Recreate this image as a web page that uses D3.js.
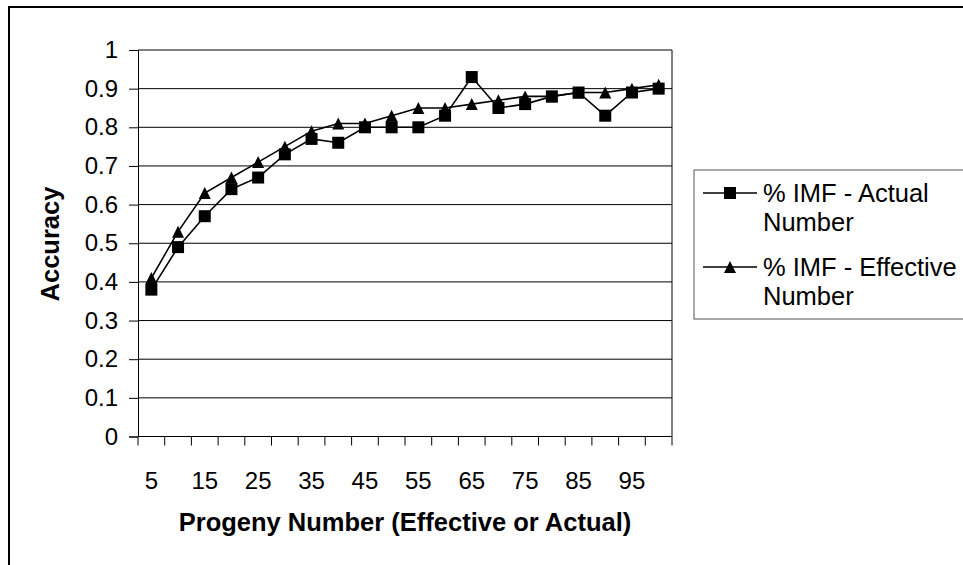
<!DOCTYPE html>
<html>
<head>
<meta charset="utf-8">
<script src="https://cdn.jsdelivr.net/npm/d3@7"></script>
<style>
  html, body { margin: 0; padding: 0; background: #fff; }
  svg { display: block; font-family: "Liberation Sans", Arial, sans-serif; }
</style>
</head>
<body>
<svg id="chart" width="963" height="565"></svg>
<script>
const categories = [5,10,15,20,25,30,35,40,45,50,55,60,65,70,75,80,85,90,95,100];
const tickLabels = [5,15,25,35,45,55,65,75,85,95];
const yTicks = [0,0.1,0.2,0.3,0.4,0.5,0.6,0.7,0.8,0.9,1];
const actualValues = [0.38,0.49,0.57,0.64,0.67,0.73,0.77,0.76,0.80,0.80,0.80,0.83,0.93,0.85,0.86,0.88,0.89,0.83,0.89,0.90];
const effectiveValues = [0.41,0.53,0.63,0.67,0.71,0.75,0.79,0.81,0.81,0.83,0.85,0.85,0.86,0.87,0.88,0.88,0.89,0.89,0.90,0.91];
const seriesNames = ["% IMF - Actual Number", "% IMF - Effective Number"];

(function () {
const svg = d3.select("#chart");
const pL = 138, pR = 672, pT = 50, pB = 436.5;
const FONT = "Liberation Sans, Arial, sans-serif";

// outer chart border
svg.append("rect").attr("x", 9).attr("y", 7).attr("width", 1000).attr("height", 600)
  .attr("fill", "none").attr("stroke", "#000").attr("stroke-width", 2);

const x = d3.scaleBand().domain(categories).range([pL, pR]).padding(0);
const y = d3.scaleLinear().domain([0, 1]).range([pB, pT]);

// gridlines
svg.append("g").selectAll("line").data(yTicks.filter(d => d > 0)).join("line")
  .attr("x1", pL).attr("x2", pR)
  .attr("y1", d => y(d)).attr("y2", d => y(d))
  .attr("stroke", "#000").attr("stroke-width", 1);

// right plot border
svg.append("line").attr("x1", pR).attr("x2", pR).attr("y1", pT).attr("y2", pB)
  .attr("stroke", "#000").attr("stroke-width", 1);

// y axis
const yAxis = d3.axisLeft(y).tickValues(yTicks).tickSize(9).tickPadding(11)
  .tickFormat(d => d === 0 ? "0" : d === 1 ? "1" : d3.format(".1f")(d));
const gy = svg.append("g").attr("transform", `translate(${pL},0)`).call(yAxis);
gy.select(".domain").attr("stroke", "#000");
gy.selectAll(".tick line").attr("stroke", "#000");
gy.selectAll(".tick text").attr("font-size", 24).attr("fill", "#000")
  .attr("font-family", FONT);

// x axis (category axis with ticks between categories)
const gx = svg.append("g").attr("transform", `translate(0,${pB})`);
gx.append("line").attr("x1", pL).attr("x2", pR).attr("y1", 0).attr("y2", 0).attr("stroke", "#000");
const boundaries = categories.map(c => x(c)).concat([pR]);
gx.selectAll("line.tk").data(boundaries).join("line").attr("class", "tk")
  .attr("x1", d => d).attr("x2", d => d).attr("y1", 0).attr("y2", 9).attr("stroke", "#000");
gx.selectAll("text").data(tickLabels).join("text")
  .attr("x", d => x(d) + x.bandwidth() / 2).attr("y", 52)
  .attr("text-anchor", "middle").attr("font-size", 24).attr("fill", "#000")
  .text(d => d);

// axis titles
svg.append("text").attr("x", 405).attr("y", 531).attr("text-anchor", "middle")
  .attr("font-size", 25.5).attr("font-weight", "bold").text("Progeny Number (Effective or Actual)");
svg.append("text").attr("transform", "translate(59,244) rotate(-90)").attr("text-anchor", "middle")
  .attr("font-size", 25.5).attr("font-weight", "bold").text("Accuracy");

const cx = c => x(c) + x.bandwidth() / 2;
const line = d3.line().x((d, i) => cx(categories[i])).y(d => y(d));

svg.append("path").datum(effectiveValues).attr("d", line)
  .attr("fill", "none").attr("stroke", "#000").attr("stroke-width", 1.6);
svg.append("path").datum(actualValues).attr("d", line)
  .attr("fill", "none").attr("stroke", "#000").attr("stroke-width", 1.6);

// triangle centred on its bounding box (Excel style)
const triType = {
  draw(ctx, size) {
    const h = Math.sqrt(size);
    ctx.moveTo(0, -h / 2);
    ctx.lineTo(h / 2, h / 2);
    ctx.lineTo(-h / 2, h / 2);
    ctx.closePath();
  }
};
const tri = d3.symbol().type(triType).size(144);
svg.append("g").selectAll("path").data(effectiveValues).join("path")
  .attr("d", tri)
  .attr("transform", (d, i) => `translate(${cx(categories[i])},${y(d)})`)
  .attr("fill", "#000");

svg.append("g").selectAll("rect").data(actualValues).join("rect")
  .attr("x", (d, i) => cx(categories[i]) - 6).attr("y", d => y(d) - 6)
  .attr("width", 12).attr("height", 12).attr("fill", "#000");

// legend
const lg = svg.append("g");
lg.append("rect").attr("x", 694).attr("y", 170).attr("width", 300).attr("height", 149)
  .attr("fill", "#fff").attr("stroke", "#555").attr("stroke-width", 1);
const legendRows = [
  { name1: "% IMF - Actual", name2: "Number", yl: 193, type: "sq" },
  { name1: "% IMF - Effective", name2: "Number", yl: 267, type: "tri" }
];
legendRows.forEach(r => {
  lg.append("line").attr("x1", 703).attr("x2", 757).attr("y1", r.yl).attr("y2", r.yl)
    .attr("stroke", "#000").attr("stroke-width", 1.5);
  if (r.type === "sq") {
    lg.append("rect").attr("x", 724).attr("y", r.yl - 6).attr("width", 12).attr("height", 12).attr("fill", "#000");
  } else {
    lg.append("path").attr("d", tri).attr("transform", `translate(730,${r.yl})`).attr("fill", "#000");
  }
  lg.append("text").attr("x", 763).attr("y", r.yl + 9).attr("font-size", 25.5).text(r.name1);
  lg.append("text").attr("x", 763).attr("y", r.yl + 38).attr("font-size", 25.5).text(r.name2);
});
})();
</script>
</body>
</html>
